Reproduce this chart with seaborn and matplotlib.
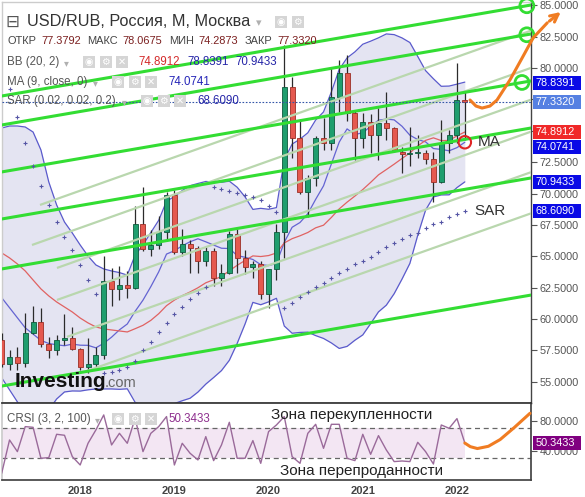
import numpy as np
import pandas as pd
import matplotlib
matplotlib.use("Agg")
import matplotlib.pyplot as plt
from matplotlib.patches import Rectangle
import matplotlib.transforms as mtransforms
import seaborn as sns

# ---------------- data (monthly USD/RUB, Mar 2017 .. Feb 2022) ----------------
months = pd.date_range("2017-03-01", periods=60, freq="MS")
opens = [58.3, 56.4, 57.0, 56.5, 58.9, 59.74, 58.0, 57.5, 58.3, 58.5,
         57.6, 56.2, 56.4, 57.1, 63.0, 62.4, 62.75, 62.5, 67.6, 65.6,
         65.9, 66.96, 69.88, 65.37, 65.96, 65.64, 64.65, 65.42, 63.25, 63.64,
         66.75, 64.84, 64.12, 64.39, 61.97, 63.96, 66.91, 78.47, 74.4, 70.15,
         71.2, 74.4, 74.05, 77.72, 79.58, 76.39, 74.4, 75.73, 74.67, 75.65,
         75.2, 73.3, 73.13, 73.2, 73.25, 72.73, 70.95, 74.05, 74.67, 77.3792]
highs = [58.9, 57.5, 57.8, 60.5, 61.0, 60.85, 58.6, 58.7, 60.4, 59.4,
         57.7, 58.5, 57.8, 65.0, 64.1, 64.2, 63.8, 69.0, 70.5, 67.1,
         68.2, 70.1, 70.3, 67.15, 66.3, 65.8, 65.7, 65.64, 64.4, 67.0,
         67.15, 65.5, 64.6, 64.6, 64.0, 67.6, 81.8, 79.3, 75.9, 71.5,
         74.6, 76.0, 80.0, 80.6, 81.0, 76.6, 76.4, 76.3, 76.8, 78.1,
         75.3, 73.73, 75.3, 74.7, 73.47, 73.3, 75.86, 75.1, 80.43, 78.0675]
lows = [56.2, 55.9, 55.9, 56.2, 58.8, 57.8, 56.9, 57.1, 57.9, 57.5,
        55.9, 55.7, 56.2, 56.8, 61.0, 61.5, 61.7, 62.4, 65.4, 65.0,
        65.6, 66.2, 65.2, 65.0, 63.7, 63.7, 64.2, 62.6, 62.6, 63.6,
        63.7, 63.6, 63.3, 61.6, 60.9, 63.1, 64.9, 72.8, 70.0, 68.1,
        70.6, 73.5, 73.5, 76.5, 75.8, 72.7, 73.6, 73.2, 72.7, 74.26,
        73.3, 71.66, 72.2, 72.8, 72.33, 69.35, 70.8, 73.2, 74.0, 74.2873]
closes = [56.4, 57.0, 56.5, 58.9, 59.74, 58.0, 57.5, 58.3, 58.5, 57.6,
          56.2, 56.4, 57.1, 63.0, 62.4, 62.75, 62.5, 67.6, 65.6, 65.9,
          66.96, 69.88, 65.37, 65.96, 65.64, 64.65, 65.42, 63.25, 63.64, 66.75,
          64.84, 64.12, 64.39, 61.97, 63.96, 66.91, 78.47, 74.4, 70.15, 71.2,
          74.4, 74.05, 77.72, 79.58, 76.39, 74.4, 75.73, 74.67, 75.65, 75.2,
          73.47, 73.13, 73.2, 73.25, 72.73, 70.95, 74.05, 74.67, 77.45, 77.332]

bb_upper_early = [75.22, 75.38, 75.38, 75.30, 74.90, 73.47, 70.92, 69.09, 67.73, 66.85,
                  65.90, 65.02, 64.31, 63.99, 63.83, 63.70, 63.50, 65.10, 65.90]
bb_mid_early = [65.27, 64.87, 64.39, 63.83, 63.11, 62.40, 61.84, 61.36, 60.96, 60.56,
                60.08, 59.69, 59.37, 59.21, 59.13, 59.05, 58.97, 59.23, 59.50]
bb_lower_early = [55.32, 54.36, 53.40, 52.36, 51.32, 51.33, 52.76, 53.63, 54.19, 54.27,
                  54.26, 54.36, 54.43, 54.43, 54.43, 54.40, 54.44, 53.36, 53.10]
ma9_early = [61.7, 60.9, 60.1, 59.3, 58.8, 58.3, 58.05, 57.95]

sar = [np.nan, 78.33, 76.10, 74.03, 72.19, 70.60, 69.09, 67.73, 66.54, 65.50,
       64.31, 63.11, 62.00, 55.70, 55.78, 55.94, 56.18, 56.66, 57.54, 58.17,
       58.97, 59.69, 60.40, 60.96, 61.60, 62.08, 62.55, 70.52, 70.36, 70.20,
       70.04, 69.88, 69.73, 69.49, 69.01, 68.53, 60.88, 61.28, 61.76, 62.16,
       62.55, 62.87, 63.27, 63.67, 63.99, 64.39, 64.63, 64.95, 65.34, 65.74,
       66.06, 66.38, 66.70, 66.85, 67.25, 67.57, 67.73, 68.13, 68.37, 68.609]

crsi = [10.0, 54.4, 38.9, 72.2, 71.3, 30.0, 30.9, 62.0, 60.7, 32.2,
        21.1, 50.0, 67.8, 87.8, 47.8, 63.3, 50.0, 83.3, 38.9, 63.3,
        72.2, 85.6, 21.1, 50.0, 36.7, 27.8, 58.9, 26.9, 47.8, 78.0,
        30.0, 30.0, 53.6, 23.3, 65.6, 74.4, 85.6, 32.2, 23.3, 63.3,
        75.3, 43.3, 75.3, 75.3, 30.0, 26.9, 62.0, 35.3, 60.2, 41.1,
        25.6, 26.4, 25.6, 51.3, 38.9, 22.4, 74.4, 70.0, 82.9, 50.3433]

# drawn channel lines (bright green): price at left edge and at right edge
chan_k = [0.0, 67.43]
chan_start = [77.77, 75.46, 71.72, 67.97, 63.99, 54.66]
chan_end = [85.02, 82.71, 78.97, 75.22, 71.24, 61.91]
ring_k = [66.9, 66.9, 66.28]
ring_p = [84.96, 82.65, 78.85]

# drawn rays (pale green): start point and price at right edge
ray_k0 = [4.88, 3.86, 7.04, 7.04, 8.32, 10.87]
ray_p0 = [69.09, 65.90, 64.07, 61.52, 58.58, 55.86]
ray_p1 = [82.98, 80.01, 77.48, 74.93, 71.70, 68.42]

# hand-drawn forecast arrows (orange)
fc_k = [59.66, 60.42, 61.2, 62.2, 63.1, 64.75, 66.3, 67.7, 69.5, 71.5]
fc_p = [77.45, 76.97, 76.81, 76.97, 77.45, 79.05, 80.8, 82.4, 83.6, 84.6]
fcr_k = [59.0, 59.7, 60.6, 62.0, 63.5, 65.3, 67.3]
fcr_v = [50.3, 45.5, 43.0, 46.0, 55.0, 71.0, 90.0]

price_ticks = [55, 57.5, 60, 62.5, 65, 67.5, 70, 72.5, 75, 77.5, 80, 82.5, 85]
hidden_ticks = [75, 77.5]          # covered by value tags in the reference
crsi_ticks = [40, 80]
years = ["2018", "2019", "2020", "2021", "2022"]

# ---------------- indicators ----------------
s = pd.Series(closes)
mid = s.rolling(20).mean()
sd = s.rolling(20).std(ddof=0)
upper = (mid + 2 * sd).values
lower = (mid - 2 * sd).values
mid = mid.values.copy()
upper[:19] = bb_upper_early
lower[:19] = bb_lower_early
mid[:19] = bb_mid_early
ma9 = s.rolling(9).mean().values.copy()
ma9[:8] = ma9_early

# ---------------- figure ----------------
sns.set_theme(style="white")
plt.rcParams['font.family'] = ['Liberation Sans', 'DejaVu Sans']

W, H = 585, 497
fig = plt.figure(figsize=(W / 100, H / 100), dpi=100)
fig.patch.set_facecolor("white")
ax = fig.add_axes([2 / W, (H - 403) / H, 529 / W, 401 / H])
axc = fig.add_axes([2 / W, (H - 480) / H, 529 / W, 77 / H])

k = np.arange(len(closes))
o = np.array(opens); c = np.array(closes); h = np.array(highs); l = np.array(lows)

# bollinger fill + lines
ax.fill_between(k, lower, upper, color="#e4e4f2", zorder=1, lw=0)
bbcol = "#5a5acc"
sns.lineplot(x=k, y=upper, ax=ax, color=bbcol, lw=0.9, zorder=2, legend=False)
sns.lineplot(x=k, y=lower, ax=ax, color=bbcol, lw=0.9, zorder=2, legend=False)
sns.lineplot(x=k, y=ma9, ax=ax, color="#6464d2", lw=0.9, zorder=2, legend=False)
sns.lineplot(x=k, y=mid, ax=ax, color="#e06262", lw=0.9, zorder=2, legend=False)

# candles
up = c >= o
blo = np.minimum(o, c)
bh = np.maximum(np.abs(c - o), 0.12)
ax.vlines(k, l, h, color="#2b2b2b", lw=0.9, zorder=4)
ax.bar(k[up], bh[up], bottom=blo[up], width=0.64, color="#1f9e6e",
       edgecolor="#0e5a3c", linewidth=0.6, zorder=5)
ax.bar(k[~up], bh[~up], bottom=blo[~up], width=0.64, color="#e5594f",
       edgecolor="#9a2e26", linewidth=0.6, zorder=5)

# pale rays
for k0, p0, p1 in zip(ray_k0, ray_p0, ray_p1):
    ax.plot([k0, 67.43], [p0, p1], color="#b9d7ae", lw=1.6, zorder=6,
            solid_capstyle="butt")
# bright channel lines
for p0, p1 in zip(chan_start, chan_end):
    ax.plot(chan_k, [p0, p1], color="#33dd33", lw=2.2, zorder=6)
ax.scatter(ring_k, ring_p, s=100, facecolors="none", edgecolors="#33dd33",
           linewidths=2, zorder=7, clip_on=False)

# SAR
ax.plot(k, sar, linestyle="none", marker="+", ms=3.2, mew=0.8, color="#5555a5", zorder=7)

# current price dotted line
ax.axhline(closes[-1], color="#3456a8", lw=0.8, ls=(0, (1.5, 1.5)), zorder=7)

# MA marker and labels
ax.scatter([k[-1]], [ma9[-1]], s=80, facecolors="none", edgecolors="#e02525",
           linewidths=1.5, zorder=8)
ax.annotate("MA", (k[-1], ma9[-1]), xytext=(9, 0), textcoords="offset points",
            fontsize=11, color="#333333", va="center", ha="left", zorder=9)
ax.annotate("SAR", (k[-1], sar[-1]), xytext=(7, 0), textcoords="offset points",
            fontsize=11, color="#333333", va="center", ha="left", zorder=9)

# forecast arrow (main)
orange = "#f07c22"
ax.plot(fc_k[:-1], fc_p[:-1], color=orange, lw=2.2, zorder=9, clip_on=False,
        solid_capstyle="round")
ax.annotate("", xy=(fc_k[-1], fc_p[-1]), xytext=(fc_k[-2], fc_p[-2]),
            arrowprops=dict(arrowstyle="->", color=orange, lw=2.2, mutation_scale=14),
            annotation_clip=False, zorder=9)

ax.set_xlim(0.04, 67.43)
ax.set_ylim(53.31, 85.26)
ax.set_xticks([])
ax.yaxis.tick_right()
ax.set_yticks(price_ticks)
ax.set_yticklabels(["" if v in hidden_ticks else f"{v:.4f}" for v in price_ticks])
ax.tick_params(axis="y", labelsize=7.8, colors="#555555", length=4, width=0.8,
               direction="out", pad=2, right=True, left=False)
for side, col in [("top", "#cccccc"), ("left", "#cccccc"), ("right", "#444444"),
                  ("bottom", "#333333")]:
    ax.spines[side].set_color(col)
    ax.spines[side].set_linewidth(1.0)
ax.set_ylabel(""); ax.set_xlabel("")

# ---------------- CRSI panel ----------------
axc.fill_between(np.r_[0.04, k[1:]], 30, 70, color="#f3e6f3", lw=0, zorder=1)
axc.axhline(70, color="#666666", lw=0.9, ls=(0, (4, 3)), zorder=2)
axc.axhline(30, color="#666666", lw=0.9, ls=(0, (4, 3)), zorder=2)
sns.lineplot(x=k, y=crsi, ax=axc, color="#9a6a9a", lw=1.0, zorder=3, legend=False)
axc.plot(fcr_k, fcr_v, color=orange, lw=2.2, zorder=4, clip_on=False,
         solid_capstyle="round")
axc.set_xlim(0.04, 67.43)
axc.set_ylim(1.07, 103.7)
axc.yaxis.tick_right()
axc.set_yticks(crsi_ticks)
axc.set_yticklabels([f"{v:.4f}" for v in crsi_ticks])
axc.tick_params(axis="y", labelsize=7.8, colors="#555555", length=4, width=0.8,
                direction="out", pad=2, right=True, left=False)
jan_idx = [i for i, m in enumerate(months) if m.month == 1]
axc.set_xticks(jan_idx)
axc.set_xticklabels(years, fontsize=8, fontweight="bold", color="#444444")
axc.tick_params(axis="x", length=0, pad=4)
for side, col in [("top", "#333333"), ("left", "#cccccc"), ("right", "#444444"),
                  ("bottom", "#444444")]:
    axc.spines[side].set_color(col)
axc.set_ylabel(""); axc.set_xlabel("")
axc.text((352 - 2) / 529, 1 - (415 - 403) / 77, "Зона перекупленности",
         transform=axc.transAxes, ha="center", va="center", fontsize=11, color="#222222")
axc.text((361 - 2) / 529, 1 - (471 - 403) / 77, "Зона перепроданности",
         transform=axc.transAxes, ha="center", va="center", fontsize=11, color="#222222")

# ---------------- overlay texts ----------------
def ftext(x, y, s, **kw):
    kw.setdefault("va", "center")
    fig.text(x / W, 1 - y / H, s, **kw)

def icons(x0, y, glyphs):
    for i, g in enumerate(glyphs):
        x = x0 + i * 16.5
        fig.add_artist(Rectangle((x / W, 1 - (y + 6) / H), 12 / W, 12 / H,
                                 transform=fig.transFigure, facecolor="#d5d5d5",
                                 edgecolor="none", zorder=5))
        ftext(x + 6, y, g, ha="center", fontsize=7, color="white",
              family=["DejaVu Sans"], zorder=6)

ftext(12, 22, "⊟", ha="center", fontsize=12, color="#555555", family=["DejaVu Sans"])
ftext(27, 22, "USD/RUB, Россия, M, Москва", fontsize=11.7, color="#333333")
ftext(256, 23, "▾", fontsize=8, color="#b0b0b0", family=["DejaVu Sans"])
icons(275, 22, ["◉", "⚙"])

lab, val = "#444444", "#7b1f1f"
for txt, x, col in [("ОТКР", 7, lab), ("77.3792", 41, val), ("МАКС", 87, lab),
                    ("78.0675", 122, val), ("МИН", 169, lab), ("74.2873", 198, val),
                    ("ЗАКР", 245, lab), ("77.3320", 277, val)]:
    ftext(x, 41, txt, fontsize=7.9, color=col)

gray = "#555555"
ftext(7, 62, "BB (20, 2)", fontsize=8.3, color=gray)
ftext(64, 63, "▾", fontsize=7, color="#b0b0b0", family=["DejaVu Sans"])
icons(83, 62, ["◉", "⚙", "✕"])
ftext(138, 62, "74.8912", fontsize=8.3, color="#d42a2a")
ftext(187, 62, "78.8391", fontsize=8.3, color="#2626a8")
ftext(235, 62, "70.9433", fontsize=8.3, color="#2626a8")

ftext(7, 82, "MA (9, close, 0)", fontsize=8.3, color=gray)
ftext(93, 83, "▾", fontsize=7, color="#b0b0b0", family=["DejaVu Sans"])
icons(112, 82, ["◉", "⚙", "✕"])
ftext(168, 82, "74.0741", fontsize=8.3, color="#2626b8")

ftext(7, 101, "SAR (0.02, 0.02, 0.2)", fontsize=8.3, color=gray)
ftext(122, 102, "▾", fontsize=7, color="#b0b0b0", family=["DejaVu Sans"])
icons(141, 101, ["◉", "⚙", "✕"])
ftext(197, 101, "68.6090", fontsize=8.3, color="#2626a8")

ftext(7, 419, "CRSI (3, 2, 100)", fontsize=8.3, color=gray)
ftext(95, 420, "▾", fontsize=7, color="#b0b0b0", family=["DejaVu Sans"])
icons(112, 419, ["◉", "⚙", "✕"])
ftext(168, 419, "50.3433", fontsize=8.3, color="#8e2f8e")

# Investing.com logo
ftext(15, 387, "Investing", va="baseline", fontsize=15, fontweight="bold", color="#111111")
ftext(105, 387, ".com", va="baseline", fontsize=10.5, color="#666666")

# right value tags
def tag(axis, value, color, h_units, nudge=0.0):
    tr = mtransforms.blended_transform_factory(fig.transFigure, axis.transData)
    yv = value + nudge
    fig.add_artist(Rectangle((533 / W, yv - h_units / 2), 48 / W, h_units,
                             transform=tr, facecolor=color, edgecolor="none",
                             zorder=10, clip_on=False))
    fig.text(536 / W, yv, f"{value:.4f}", transform=tr, fontsize=7.8,
             color="white", va="center", ha="left", zorder=11)

hp = 14 / 12.55
tag(ax, 78.8391, "#0a0ae6", hp)
tag(ax, 77.3320, "#5580e2", hp)
tag(ax, 74.8912, "#f02828", hp)
tag(ax, 74.0741, "#0a0ae6", hp, nudge=-0.37)
tag(ax, 70.9433, "#0a0ae6", hp)
tag(ax, 68.6090, "#0a0ae6", hp)
tag(axc, 50.3433, "#800080", 14 * 1.333)

fig.savefig("out.png", dpi=100, facecolor="white")
